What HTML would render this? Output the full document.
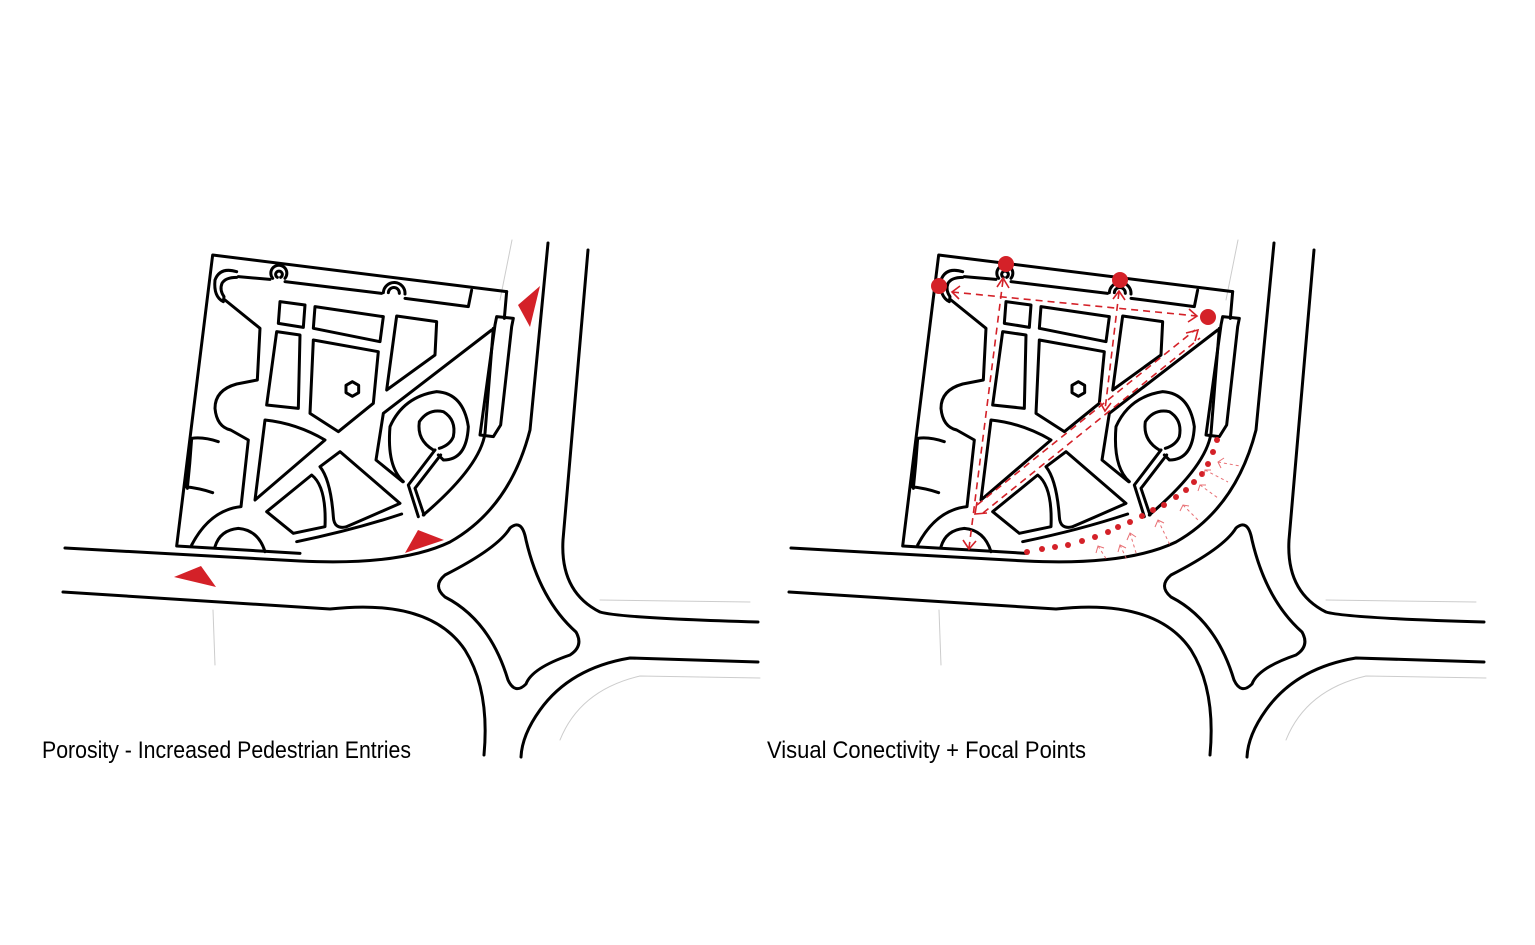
<!DOCTYPE html>
<html><head><meta charset="utf-8"><style>
html,body{margin:0;padding:0;background:#fff;}
svg{display:block;}
</style></head><body>
<svg width="1535" height="945" viewBox="0 0 1535 945" xmlns="http://www.w3.org/2000/svg">
<defs>
<g id="base" fill="none" stroke="#000" stroke-width="3" stroke-linejoin="round" stroke-linecap="round">
  <g stroke="#ccc" stroke-width="1">
    <path d="M213,610 L215,665"/>
    <path d="M512,240 L500,300"/>
    <path d="M600,600 L750,602"/>
    <path d="M760,678 L640,676 Q580,690 560,740"/>
  </g>
  <path d="M65,548 L300,561 Q400,566 450,542 Q510,508 530,430 L548,243"/>
  <path d="M63,592 L330,609 Q430,598 465,650 Q490,690 484,755"/>
  <path d="M510,528 Q522,518 526,540 Q540,600 576,632 Q584,646 570,655 Q532,668 526,684 Q515,695 508,680 Q490,620 445,597 Q432,586 445,575 Q498,548 510,528 Z"/>
  <path d="M588,250 L563,540 Q560,592 600,612 Q620,618 758,622"/>
  <path d="M758,662 L630,658 Q570,668 540,710 Q522,735 521,757"/>
  <g transform="translate(170,240) scale(0.33333)" stroke-width="9">
    <path d="M1010,155 L128,45 L20,918 L390,940"/>
    <path d="M1010,155 L1003,235"/>
    <path d="M205,110 L300,118 M345,125 L635,160 M705,175 L895,200 L905,150"/>
    <path d="M200,95 Q150,80 135,120 Q130,170 160,185 L162,170 Q148,150 156,130 Q166,112 200,112"/>
    <path d="M308,115 A24,24 0 1 1 345,115 M322,112 A10,10 0 1 1 332,112 M640,158 A30,30 0 1 1 705,162 M655,158 A13,13 0 1 1 688,160"/>
    <path d="M165,180 L270,265 L262,420 L200,432 Q135,450 135,505 Q140,560 182,570 L235,600 L213,800 Q120,810 65,915"/>
    <path d="M145,605 Q100,590 65,595 L45,740 Q90,745 128,758 M65,595 Q60,670 52,745"/>
    <path d="M330,185 L405,195 L400,262 L325,250 Z"/>
    <path d="M435,200 L640,230 L630,305 L430,265 Z"/>
    <path d="M680,228 L800,245 L795,345 L650,450 Z"/>
    <path d="M320,275 L390,285 L385,505 L290,495 Z"/>
    <path d="M430,300 L625,335 L610,490 L505,575 L420,520 Z"/>
    <path d="M547,425 L566,436 L566,458 L547,469 L528,458 L528,436 Z"/>
    <path d="M285,540 Q380,550 465,600 L255,780 Z"/>
    <path d="M425,705 Q470,740 465,860 L370,880 L290,815 Z"/>
    <path d="M510,635 L690,790 Q600,830 530,860 Q492,870 490,830 Q482,720 450,680 Z"/>
    <path d="M135,920 Q150,870 205,865 Q265,870 285,935"/>
    <path d="M380,905 Q550,870 695,822"/>
    <path d="M965,270 L640,520 L618,660 L698,725"/>
    <path d="M970,265 L945,580 Q930,680 760,825"/>
    <path d="M700,725 Q650,680 660,560 Q700,470 800,455 Q880,460 895,560 Q890,660 820,660 L805,645"/>
    <path d="M790,630 Q740,600 748,545 Q775,505 820,515 Q860,540 850,590 Q840,615 808,625"/>
    <path d="M795,630 L715,735 L745,830 M812,645 L735,745 L762,825"/>
    <path d="M980,230 L1030,235 L1025,260 L992,555 L970,590 L930,585 L975,255 Z"/>
  </g>
</g>
</defs>

<use href="#base"/>
<use href="#base" transform="translate(726,0)"/>

<g fill="#d42128">
  <polygon points="174,577 201,566 216,587"/>
  <polygon points="405,553 418,530 444,540"/>
  <polygon points="518,305 540,286 530,327"/>
</g>

<g stroke="#d42128" fill="none" stroke-width="1.6" stroke-dasharray="7,5">
  <path d="M952,292 L1197,316"/>
  <path d="M1003,280 L969,548"/>
  <path d="M1119,292 L1105,410"/>
  <path d="M977,505 L1195,330"/>
  <path d="M983,513 L1200,338"/>
</g>
<g stroke="#d42128" fill="none" stroke-width="1.6">
  <path d="M960,286 L952,292 L959,299"/>
  <path d="M1189,309 L1197,316 L1188,322"/>
  <path d="M997,287 L1003,278 L1009,288"/>
  <path d="M963,540 L969,549 L976,541"/>
  <path d="M1113,299 L1119,291 L1125,300"/>
  <path d="M1100,402 L1105,411 L1111,403"/>
  <path d="M1186,333 L1198,330 L1195,341"/>
  <path d="M977,502 L975,514 L987,513"/>
</g>
<g fill="#d42128">
  <circle cx="939" cy="286" r="8"/>
  <circle cx="1006" cy="264" r="8"/>
  <circle cx="1120" cy="280" r="8"/>
  <circle cx="1208" cy="317" r="8"/>
  <circle cx="1027" cy="552" r="3"/><circle cx="1042" cy="549" r="3"/><circle cx="1055" cy="547" r="3"/>
  <circle cx="1068" cy="545" r="3"/><circle cx="1082" cy="541" r="3"/><circle cx="1095" cy="537" r="3"/>
  <circle cx="1108" cy="532" r="3"/><circle cx="1118" cy="527" r="3"/><circle cx="1130" cy="522" r="3"/>
  <circle cx="1142" cy="516" r="3"/><circle cx="1153" cy="510" r="3"/><circle cx="1164" cy="505" r="3"/>
  <circle cx="1176" cy="497" r="3"/><circle cx="1186" cy="490" r="3"/><circle cx="1194" cy="482" r="3"/>
  <circle cx="1202" cy="474" r="3"/><circle cx="1208" cy="464" r="3"/><circle cx="1213" cy="452" r="3"/>
  <circle cx="1217" cy="440" r="3"/>
</g>
<g stroke="#e4585d" fill="none" stroke-width="1" opacity="0.85">
  <path d="M1098,546 L1107,560" stroke-dasharray="3,3"/><path d="M1096,553 L1098,546 L1104,548"/>
  <path d="M1130,533 L1137,556" stroke-dasharray="3,3"/><path d="M1127,540 L1130,533 L1136,537"/>
  <path d="M1158,520 L1170,545" stroke-dasharray="3,3"/><path d="M1155,527 L1158,520 L1164,523"/>
  <path d="M1183,505 L1198,520" stroke-dasharray="3,3"/><path d="M1180,511 L1183,505 L1189,506"/>
  <path d="M1200,485 L1218,498" stroke-dasharray="3,3"/><path d="M1198,491 L1200,485 L1206,485"/>
  <path d="M1218,462 L1240,466" stroke-dasharray="3,3"/><path d="M1221,468 L1218,462 L1224,458"/>
  <path d="M1120,545 L1127,560" stroke-dasharray="3,3"/><path d="M1118,552 L1120,545 L1126,548"/>
  <path d="M1205,470 L1228,482" stroke-dasharray="3,3"/><path d="M1204,476 L1205,470 L1211,470"/>
</g>

<g font-family="'Liberation Sans Narrow','Liberation Sans',sans-serif" font-size="24" fill="#000">
  <text x="42" y="758" textLength="369" lengthAdjust="spacingAndGlyphs">Porosity - Increased Pedestrian Entries</text>
  <text x="767" y="758" textLength="319" lengthAdjust="spacingAndGlyphs">Visual Conectivity + Focal Points</text>
</g>
</svg>
</body></html>
